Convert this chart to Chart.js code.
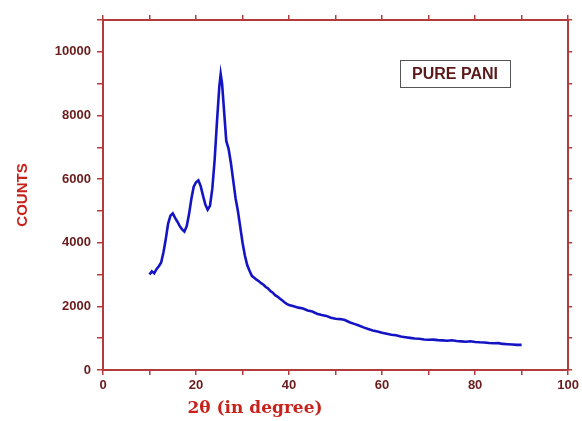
<!DOCTYPE html>
<html lang="en">
<head>
  <meta charset="UTF-8">
  <title>PURE PANI XRD</title>
  <style>
    html, body { margin: 0; padding: 0; background: #fff; }
    .wrap { width: 582px; height: 421px; }
  </style>
</head>
<body>
  <div class="wrap"><canvas id="xrdChart" width="582" height="421"></canvas></div>

  <script src="https://cdn.jsdelivr.net/npm/chart.js"></script>
  <script>
    // diffraction pattern (2θ in degrees, counts)
    const angles = [
      10, 10.5, 11, 11.5, 12, 12.5, 13, 13.5, 14, 14.5, 15, 15.5, 16, 16.5, 17, 17.5,
      18, 18.5, 19, 19.5, 20, 20.5, 21, 21.5, 22, 22.5, 23, 23.5, 24, 24.5, 25, 25.3,
      25.6, 26, 26.5, 27, 27.5, 28, 28.5, 29, 29.5, 30, 30.5, 31, 31.5, 32, 32.5, 33,
      33.5, 34, 34.5, 35, 35.5, 36, 36.5, 37, 37.5, 38, 38.5, 39, 39.5, 40, 41, 42, 43,
      44, 45, 46, 47, 48, 49, 50, 51, 52, 53, 54, 55, 56, 57, 58, 59, 60, 61, 62, 63,
      64, 65, 66, 67, 68, 69, 70, 71, 72, 73, 74, 75, 76, 77, 78, 79, 80, 81, 82, 83,
      84, 85, 86, 87, 88, 89, 90
    ];
    const counts = [
      3000, 3100, 3040, 3170, 3260, 3380, 3700, 4120, 4600, 4850, 4920, 4780, 4660, 4520, 4420, 4350,
      4520, 4900, 5380, 5760, 5900, 5960, 5780, 5480, 5200, 5040, 5160, 5700, 6600, 7800, 8900, 9300,
      9000, 8200, 7200, 6950, 6500, 5950, 5400, 5000, 4500, 4000, 3600, 3300, 3120, 2960, 2900, 2840,
      2790, 2730, 2680, 2610, 2560, 2480, 2430, 2350, 2310, 2250, 2190, 2130, 2080, 2040, 2000, 1960, 1930,
      1870, 1840, 1770, 1730, 1700, 1640, 1610, 1600, 1570, 1500, 1450, 1400, 1340, 1290, 1240, 1210, 1170, 1140, 1110, 1090,
      1050, 1030, 1010, 990, 980, 960, 950, 955, 940, 930, 920, 935, 910, 900, 890, 905, 880, 870, 865, 850,
      840, 845, 820, 810, 800, 790, 790
    ];

    const xMin = 0, xMax = 100, xStep = 10;
    const yMin = 0, yMax = 11000, yStep = 1000;
    const xLabelEvery = 20;
    const yLabelEvery = 2000;

    const axisColor = '#b23b3b';
    const tickTextColor = '#6a1c1c';
    const titleColor = '#c8221c';

    const points = angles.map((a, i) => ({ x: a, y: counts[i] }));

    function fixWidth(w) { return s => { s.width = w; }; }
    function fixHeight(h) { return s => { s.height = h; }; }

    const gridOpts = len => ({
      drawOnChartArea: false,
      drawTicks: true,
      tickLength: len,
      color: axisColor,
      lineWidth: 1.5
    });
    const borderOpts = { color: axisColor, width: 2 };

    // annotation box and x axis title
    const extras = {
      id: 'extras',
      afterDraw(chart) {
        const ctx = chart.ctx;
        ctx.save();
        ctx.strokeStyle = '#555';
        ctx.lineWidth = 1;
        ctx.strokeRect(400.5, 60.5, 110, 27);
        ctx.fillStyle = '#5a1a1a';
        ctx.font = 'bold 16px "Liberation Sans", Arial, sans-serif';
        ctx.textAlign = 'center';
        ctx.textBaseline = 'middle';
        ctx.fillText('PURE PANI', 455, 74.5);

        ctx.fillStyle = titleColor;
        ctx.font = 'bold 17px "DejaVu Serif", serif';
        ctx.fillText('2θ (in degree)', 255, 409);
        ctx.restore();
      }
    };

    new Chart(document.getElementById('xrdChart'), {
      type: 'scatter',
      data: {
        datasets: [{
          data: points,
          showLine: true,
          borderColor: '#1414c4',
          borderWidth: 2.6,
          pointRadius: 0,
          tension: 0
        }]
      },
      options: {
        responsive: false,
        animation: false,
        layout: { padding: 0 },
        plugins: { legend: { display: false }, tooltip: { enabled: false } },
        scales: {
          x: {
            type: 'linear', position: 'bottom', min: xMin, max: xMax,
            afterFit: fixHeight(51),
            grid: gridOpts(5), border: borderOpts,
            ticks: {
              stepSize: xStep, padding: 3, color: tickTextColor,
              font: { family: '"Liberation Sans", Arial', size: 13, weight: 'bold' },
              callback: v => (v % xLabelEvery === 0 ? v : '')
            }
          },
          x2: {
            type: 'linear', position: 'top', min: xMin, max: xMax,
            afterFit: fixHeight(20),
            grid: gridOpts(5), border: borderOpts,
            ticks: { stepSize: xStep, display: false }
          },
          y: {
            type: 'linear', position: 'left', min: yMin, max: yMax,
            afterFit: fixWidth(103),
            grid: gridOpts(6), border: borderOpts,
            title: {
              display: true, text: 'COUNTS', color: titleColor, padding: { top: 14, bottom: 4 },
              font: { family: '"Liberation Sans", Arial', size: 15, weight: 'bold' }
            },
            ticks: {
              stepSize: yStep, padding: 6, color: tickTextColor,
              font: { family: '"Liberation Sans", Arial', size: 13, weight: 'bold' },
              callback: v => (v % yLabelEvery === 0 ? v : '')
            }
          },
          y2: {
            type: 'linear', position: 'right', min: yMin, max: yMax,
            afterFit: fixWidth(11),
            grid: gridOpts(4), border: borderOpts,
            ticks: { stepSize: yStep, display: false }
          }
        }
      },
      plugins: [extras]
    });
  </script>
</body>
</html>
